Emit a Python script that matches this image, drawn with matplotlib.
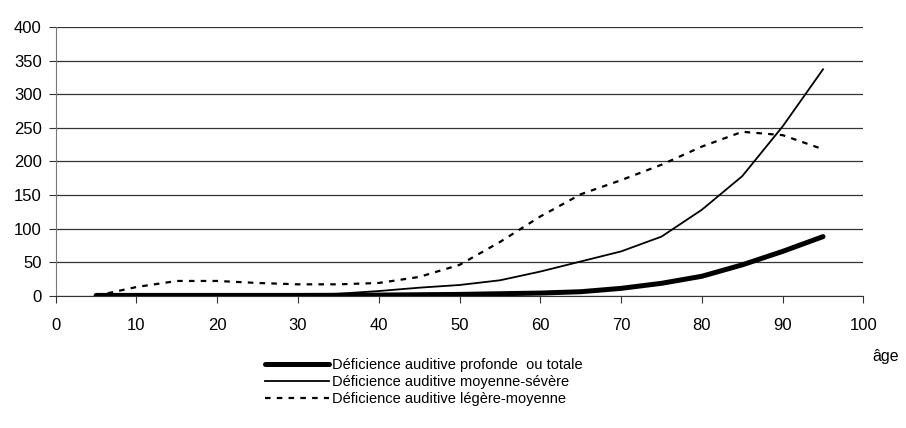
import numpy as np
import matplotlib
matplotlib.use("Agg")
import matplotlib.pyplot as plt

plt.rcParams['font.family'] = ['Liberation Sans', 'DejaVu Sans']

ages = [5, 10, 15, 20, 25, 30, 35, 40, 45, 50, 55, 60, 65, 70, 75, 80, 85, 90, 95]

profonde = [0.5, 0.5, 0.5, 0.5, 0.5, 0.5, 0.7, 1, 1.5, 2, 3, 4, 6, 11, 18.5, 29, 46, 66, 88]
moyenne_severe = [0.5, 0.5, 0.5, 0.5, 0.5, 1, 3, 7, 12, 16, 23, 36, 51, 66, 88, 128, 178, 252, 337]
legere_moyenne = [0, 13, 22, 22, 19, 17, 17, 19, 28, 46, 80, 118, 151, 172, 195, 222, 244, 239, 218]

labels = [
    "Déficience auditive profonde  ou totale",
    "Déficience auditive moyenne-sévère",
    "Déficience auditive légère-moyenne",
]

fig = plt.figure(figsize=(9.06, 4.28), dpi=100)
ax = fig.add_axes([0.0615, 0.309, 0.8915, 0.628])

ax.plot(ages, profonde, color='black', lw=3.6, solid_capstyle='round', label=labels[0])
ax.plot(ages, moyenne_severe, color='black', lw=1.3, label=labels[1])
ax.plot(ages, legere_moyenne, color='black', lw=1.6, linestyle=(0, (2.5, 2.8)), label=labels[2])

ax.set_xlim(0, 100)
ax.set_ylim(0, 400)
ax.set_xticks(range(0, 101, 10))
ax.set_yticks(range(0, 401, 50))

ax.yaxis.grid(True, color='#333333', lw=0.9)
ax.set_axisbelow(True)

for side in ['top', 'right']:
    ax.spines[side].set_visible(False)
ax.spines['left'].set_color('#777777')
ax.spines['bottom'].set_color('#333333')

ax.tick_params(axis='x', direction='out', length=5, pad=11, labelsize=12, color='#333333')
ax.tick_params(axis='y', direction='out', length=5, pad=5, labelsize=12, color='#333333')

fig.text(0.978, 1 - 356 / 428, "âge", ha='center', va='center', fontsize=11.5)

leg = fig.legend(loc='upper left', bbox_to_anchor=(0.292, 1 - 358 / 428),
                 frameon=False, fontsize=10.5, handlelength=4.4, handletextpad=0.2,
                 labelspacing=0.2, borderpad=0, borderaxespad=0)

fig.savefig("out.png", dpi=100)
